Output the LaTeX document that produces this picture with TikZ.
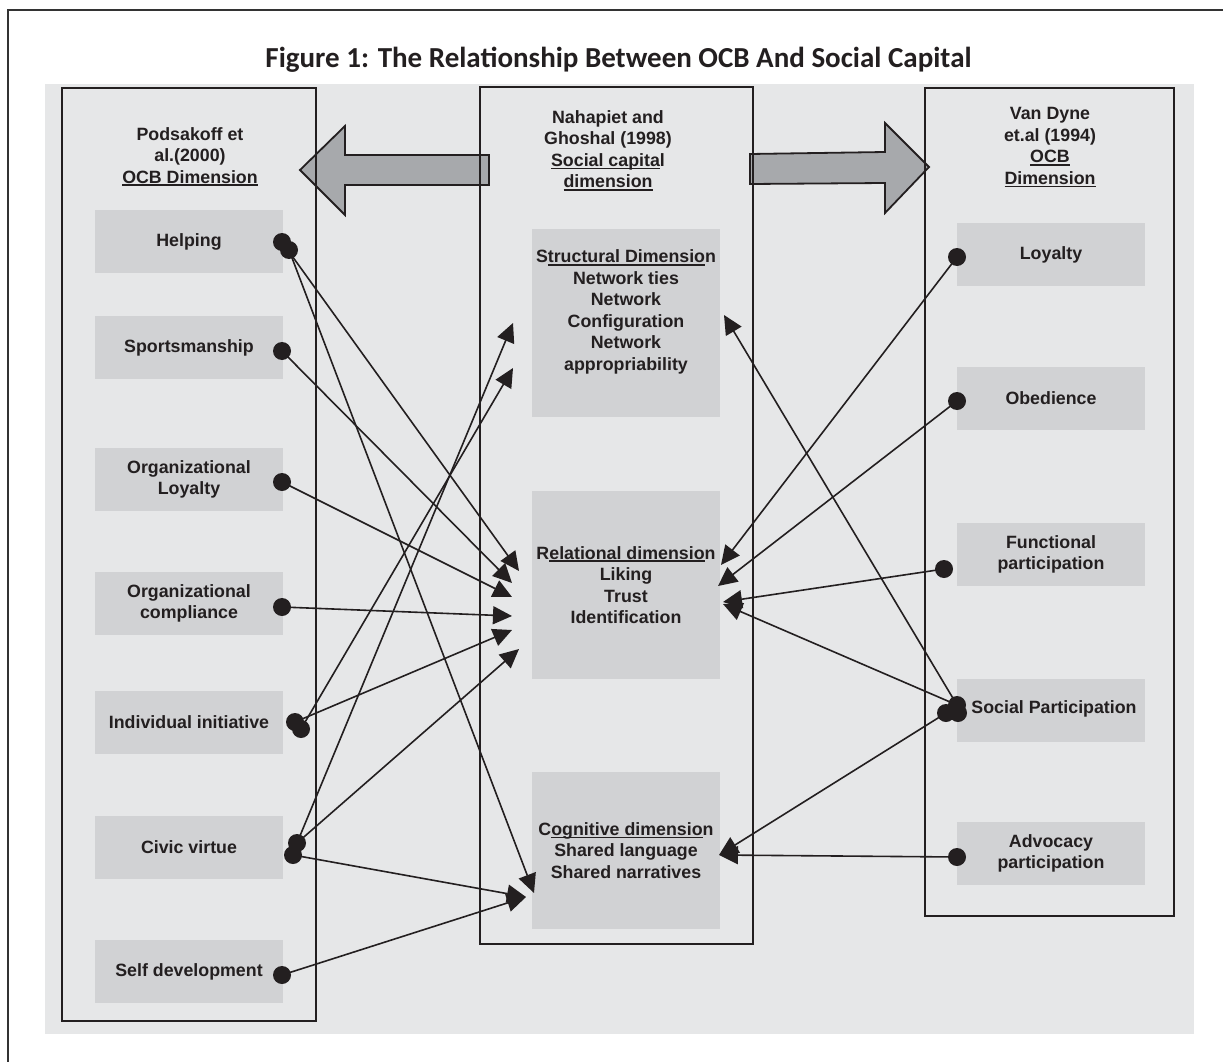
\documentclass[tikz,border=0pt]{standalone}
\usepackage{fontspec}
\setmainfont{Liberation Sans}
\newfontfamily\titlefont{Carlito}
\usetikzlibrary{arrows.meta}
\definecolor{ink}{HTML}{231F20}
\definecolor{panel}{HTML}{E6E7E8}
\definecolor{cell}{HTML}{D1D2D4}
\definecolor{blockfill}{HTML}{A7A9AC}
\definecolor{framegray}{HTML}{333333}
% underline drawn as a bar at a fixed depth under the text
\newsavebox\ulbox
\newcommand{\ulbar}[1]{\sbox\ulbox{#1}\rlap{\rule[-2.8pt]{\wd\ulbox}{1.5pt}}\usebox\ulbox}

\begin{document}
\begin{tikzpicture}[x=1pt,y=-1pt,
  cellbox/.style={fill=cell, draw=none, minimum width=188pt, inner sep=0pt},
  colframe/.style={draw=ink, line width=2pt},
  lbl/.style={text=ink, font=\bfseries\fontsize{17.8}{21.5}\selectfont, align=center, inner sep=0pt},
  dotmark/.style={circle, fill=ink, inner sep=0pt, minimum size=18pt},
  link/.style={draw=ink, line width=1.6pt, -{Triangle[length=19pt,width=18pt]}},
  block/.style={fill=blockfill, draw=ink, line width=1.8pt, line join=miter}
]
\useasboundingbox (0,0) rectangle (1223,1062);
\clip (0,0) rectangle (1223,1062);
\fill[white] (0,0) rectangle (1223,1062);

% outer page frame
\draw[framegray, line width=2pt] (8,1080) -- (8,10) -- (1240,10);

% title
\node[anchor=base, text=ink, font=\titlefont\bfseries\fontsize{29}{34}\selectfont, inner sep=0pt]
  (title) at (618.5,68) {Figure 1: The Relationship Between OCB And Social Capital};

% grey panel
\fill[panel] (45,84) rectangle (1194,1034);

% block arrows between the columns
\path[block] (489,155) -- (345,155) -- (345,126) -- (300,170) -- (345,215) -- (345,185) -- (489,185) -- cycle;
\path[block] (750,154) -- (885,152) -- (885,123) -- (929,167) -- (885,213) -- (885,183) -- (750,184) -- cycle;

% column frames
\draw[colframe] (62,88) rectangle (316,1021);
\draw[colframe] (480,87) rectangle (753,944);
\draw[colframe] (925,88) rectangle (1174,916);

% column headings
\node[lbl] (hleft) at (190,156.5) {Podsakoff et\\al.(2000)\\\ulbar{OCB Dimension}};
\node[lbl] (hmid) at (608,150.5) {Nahapiet and\\Ghoshal (1998)\\\ulbar{Social capita}l\\\ulbar{dimension}};
\node[lbl] (hright) at (1050,147.5) {Van Dyne\\et.al (1994)\\\ulbar{OCB}\\\ulbar{Dimension}};

% left column: OCB dimensions
\node[cellbox, lbl, minimum height=63pt] (helping) at (189,241.5) {Helping};
\node[cellbox, lbl, minimum height=63pt] (sports) at (189,347.5) {Sportsmanship};
\node[cellbox, lbl, minimum height=63pt] (orgloy) at (189,479.5) {Organizational\\Loyalty};
\node[cellbox, lbl, minimum height=63pt] (orgcomp) at (189,603.5) {Organizational\\compliance};
\node[cellbox, lbl, minimum height=63pt] (initiative) at (189,722.5) {Individual initiative};
\node[cellbox, lbl, minimum height=63pt] (civic) at (189,847.5) {Civic virtue};
\node[cellbox, lbl, minimum height=63pt] (selfdev) at (189,971.5) {Self development};

% middle column: social capital dimensions
\node[cellbox, minimum height=188pt] (structural) at (626,323) {};
\node[lbl] (structxt) at (626,312) {S\ulbar{tructural Dimensio}n\\Network ties\\Network\\Configuration\\Network\\appropriability};
\node[cellbox, lbl, minimum height=188pt] (relational) at (626,585) {R\ulbar{elational dimensio}n\\Liking\\Trust\\Identification};
\node[cellbox, lbl, minimum height=157pt] (cognitive) at (626,850.5) {C\ulbar{ognitive dimensio}n\\Shared language\\Shared narratives};

% right column: OCB dimensions
\node[cellbox, lbl, minimum height=63pt] (loyalty) at (1051,254.5) {Loyalty};
\node[cellbox, lbl, minimum height=63pt] (obedience) at (1051,398.5) {Obedience};
\node[cellbox, lbl, minimum height=63pt] (functional) at (1051,554.5) {Functional\\participation};
\node[cellbox, minimum height=63pt] (social) at (1051,710.5) {};
\node[lbl] (socialtxt) at (1054,709) {Social Participation};
\node[cellbox, lbl, minimum height=63pt] (advocacy) at (1051,853.5) {Advocacy\\participation};

% arrow tips
\coordinate (strL1) at (513,323);
\coordinate (strL2) at (513,368);
\coordinate (strR) at (724,315);
\coordinate (relL1) at (519,571);
\coordinate (relL2) at (512,583);
\coordinate (relL3) at (512,597);
\coordinate (relL4) at (512,616);
\coordinate (relL5) at (512,630);
\coordinate (relL6) at (519,649);
\coordinate (relR1) at (721,565);
\coordinate (relR2) at (718,586);
\coordinate (relR3) at (723,602);
\coordinate (relR4) at (723,604);
\coordinate (cogL1) at (534,893);
\coordinate (cogL2) at (526,897);
\coordinate (cogR) at (719,855);

% connector origins
\coordinate (help1) at (282,242);
\coordinate (help2) at (289,250);
\coordinate (sport1) at (282,351);
\coordinate (oloy1) at (282,482);
\coordinate (ocomp1) at (282,607);
\coordinate (init1) at (295,722);
\coordinate (init2) at (301,729);
\coordinate (civ1) at (297,843);
\coordinate (civ2) at (293,855);
\coordinate (self1) at (282,975);
\coordinate (loy1) at (957,257);
\coordinate (obe1) at (957,401);
\coordinate (fun1) at (944,569);
\coordinate (soc1) at (957,705);
\coordinate (soc2) at (946,713);
\coordinate (soc3) at (958,713);
\coordinate (adv1) at (957,857);

% connectors from the left column
\draw[link] (help1) -- (relL1);
\draw[link] (help2) -- (cogL1);
\draw[link] (sport1) -- (relL2);
\draw[link] (oloy1) -- (relL3);
\draw[link] (ocomp1) -- (relL4);
\draw[link] (init1) -- (relL5);
\draw[link] (init2) -- (strL2);
\draw[link] (civ1) -- (strL1);
\draw[link] (civ1) -- (relL6);
\draw[link] (civ2) -- (cogL2);
\draw[link] (self1) -- (cogL2);

% connectors from the right column
\draw[link] (loy1) -- (relR1);
\draw[link] (obe1) -- (relR2);
\draw[link] (fun1) -- (relR3);
\draw[link] (soc1) -- (strR);
\draw[link] (soc1) -- (relR4);
\draw[link] (soc2) -- (cogR);
\draw[link] (adv1) -- (cogR);

% origin dots
\foreach \p in {help1,help2,sport1,oloy1,ocomp1,init1,init2,civ1,civ2,self1,loy1,obe1,fun1,soc1,soc2,soc3,adv1}
  \node[dotmark] (dot-\p) at (\p) {};
\end{tikzpicture}
\end{document}
